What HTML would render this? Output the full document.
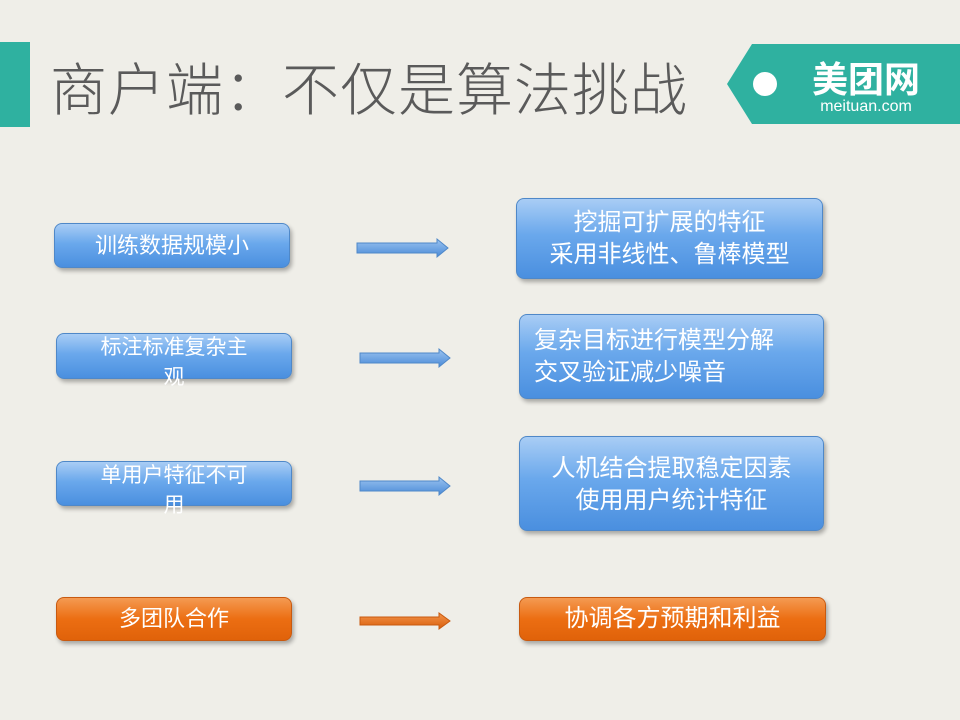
<!DOCTYPE html>
<html><head><meta charset="utf-8"><style>
body{margin:0;width:960px;height:720px;background:#efeee8;position:relative;overflow:hidden;font-family:"Liberation Sans","Noto Sans CJK SC",sans-serif}
.t{position:absolute;left:50px;top:56px;font-size:57px;color:#5a5a5a;letter-spacing:1px;line-height:70px;font-weight:300}
.b{position:absolute;border-radius:8px;color:#fff;text-align:center;box-shadow:2px 3px 4px rgba(0,0,0,.3);font-size:22px;display:flex;align-items:center;justify-content:center;flex-direction:column;line-height:30px}
.blue{background:linear-gradient(#a9cdf5,#6aa8ec 45%,#4a8fdf);border:1px solid #4f88c8}
.or{background:linear-gradient(#f49a52,#ec6e12 50%,#e0620a);border:1px solid #c85a10}
.l{font-size:21px;overflow:visible;white-space:nowrap}
</style></head><body>
<div style="position:absolute;left:0;top:42px;width:30px;height:85px;background:#2fb1a0"></div>
<div class="t">商户端：不仅是算法挑战</div>
<svg style="position:absolute;left:0;top:0" width="960" height="720">
<polygon points="727,84 752,44 960,44 960,124 752,124" fill="#2fb1a0"/>
<circle cx="765" cy="84" r="12" fill="#fff"/>
<text x="866" y="92" font-size="36" fill="#fff" text-anchor="middle" font-family="Noto Sans CJK SC,sans-serif" font-weight="bold">美团网</text>
<text x="866" y="111" font-size="16" fill="#fff" text-anchor="middle" font-family="Liberation Sans,sans-serif">meituan.com</text>
<defs><linearGradient id="g" x1="0" y1="0" x2="0" y2="1"><stop offset="0" stop-color="#9cc4f0"/><stop offset="1" stop-color="#4a8ad8"/></linearGradient>
<linearGradient id="o" x1="0" y1="0" x2="0" y2="1"><stop offset="0" stop-color="#f4944a"/><stop offset="1" stop-color="#d85e0c"/></linearGradient></defs>
<g stroke-width="1" >
<polygon points="357,243 437,243 437,239 448,248 437,257 437,253 357,253" fill="url(#g)" stroke="#4f88c8"/>
<polygon points="360,353 439,353 439,349 450,358 439,367 439,363 360,363" fill="url(#g)" stroke="#4f88c8"/>
<polygon points="360,481 439,481 439,477 450,486 439,495 439,491 360,491" fill="url(#g)" stroke="#4f88c8"/>
<polygon points="360,617 439,617 439,613 450,621 439,629 439,625 360,625" fill="url(#o)" stroke="#c85a10"/>
</g></svg>
<div class="b blue" style="left:54px;top:223px;width:234px;height:43px">训练数据规模小</div>
<div class="b blue l" style="left:56px;top:333px;width:234px;height:44px"><div style="margin-top:14px">标注标准复杂主</div><div>观</div></div>
<div class="b blue l" style="left:56px;top:461px;width:234px;height:43px"><div style="margin-top:14px">单用户特征不可</div><div>用</div></div>
<div class="b or" style="left:56px;top:597px;width:234px;height:42px">多团队合作</div>
<div class="b blue" style="left:516px;top:198px;width:305px;height:79px;font-size:24px;line-height:32px"><div>挖掘可扩展的特征</div><div>采用非线性、鲁棒模型</div></div>
<div class="b blue" style="left:519px;top:314px;width:305px;height:85px;font-size:24px;line-height:32px;align-items:flex-start;padding-left:14px;box-sizing:border-box"><div>复杂目标进行模型分解</div><div>交叉验证减少噪音</div></div>
<div class="b blue" style="left:519px;top:436px;width:305px;height:95px;font-size:24px;line-height:32px;justify-content:flex-start;padding-top:16px;box-sizing:border-box"><div>人机结合提取稳定因素</div><div>使用用户统计特征</div></div>
<div class="b or" style="left:519px;top:597px;width:305px;height:42px;font-size:24px">协调各方预期和利益</div>
</body></html>
